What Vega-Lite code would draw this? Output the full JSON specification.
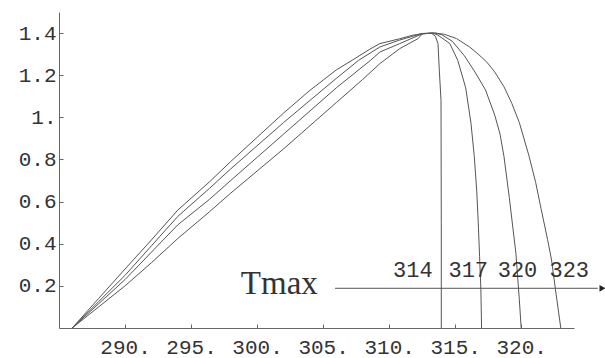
{
  "$schema": "https://vega.github.io/schema/vega-lite/v6.json",
  "width": 515,
  "height": 316,
  "autosize": {"type": "none"},
  "padding": {"left": 59, "top": 12, "right": 31, "bottom": 30},
  "background": "white",
  "config": {
    "view": {"stroke": null},
    "axis": {"grid": false, "domainColor": "#666", "tickColor": "#666", "labelColor": "#333", "labelFont": "Liberation Mono", "labelFontSize": 21, "domainWidth": 1, "tickWidth": 1, "title": null, "labelFlush": false, "labelOverlap": false}
  },
  "datasets": {
    "curves": [
      {"tmax": 323, "i": 0, "T": 286, "r": 0},
      {"tmax": 323, "i": 1, "T": 288, "r": 0.14},
      {"tmax": 323, "i": 2, "T": 290, "r": 0.28},
      {"tmax": 323, "i": 3, "T": 292, "r": 0.418},
      {"tmax": 323, "i": 4, "T": 294, "r": 0.56},
      {"tmax": 323, "i": 5, "T": 296.4, "r": 0.694},
      {"tmax": 323, "i": 6, "T": 298, "r": 0.79},
      {"tmax": 323, "i": 7, "T": 300, "r": 0.905},
      {"tmax": 323, "i": 8, "T": 302, "r": 1.02},
      {"tmax": 323, "i": 9, "T": 304, "r": 1.128},
      {"tmax": 323, "i": 10, "T": 306, "r": 1.225},
      {"tmax": 323, "i": 11, "T": 307.2, "r": 1.271},
      {"tmax": 323, "i": 12, "T": 308.5, "r": 1.322},
      {"tmax": 323, "i": 13, "T": 309.3, "r": 1.35},
      {"tmax": 323, "i": 14, "T": 310.8, "r": 1.373},
      {"tmax": 323, "i": 15, "T": 311.8, "r": 1.39},
      {"tmax": 323, "i": 16, "T": 312.6, "r": 1.398},
      {"tmax": 323, "i": 17, "T": 313.5, "r": 1.4},
      {"tmax": 323, "i": 18, "T": 314.2, "r": 1.394},
      {"tmax": 323, "i": 19, "T": 315.1, "r": 1.374},
      {"tmax": 323, "i": 20, "T": 316.1, "r": 1.334},
      {"tmax": 323, "i": 21, "T": 316.8, "r": 1.297},
      {"tmax": 323, "i": 22, "T": 317.4, "r": 1.262},
      {"tmax": 323, "i": 23, "T": 318.0, "r": 1.215},
      {"tmax": 323, "i": 24, "T": 318.7, "r": 1.145},
      {"tmax": 323, "i": 25, "T": 319.3, "r": 1.065},
      {"tmax": 323, "i": 26, "T": 319.86, "r": 0.975},
      {"tmax": 323, "i": 27, "T": 320.6, "r": 0.815},
      {"tmax": 323, "i": 28, "T": 321.1, "r": 0.69},
      {"tmax": 323, "i": 29, "T": 321.5, "r": 0.568},
      {"tmax": 323, "i": 30, "T": 322.0, "r": 0.42},
      {"tmax": 323, "i": 31, "T": 322.3, "r": 0.323},
      {"tmax": 323, "i": 32, "T": 322.6, "r": 0.181},
      {"tmax": 323, "i": 33, "T": 323, "r": 0},
      {"tmax": 320, "i": 0, "T": 286, "r": 0},
      {"tmax": 320, "i": 1, "T": 288, "r": 0.125},
      {"tmax": 320, "i": 2, "T": 290, "r": 0.25},
      {"tmax": 320, "i": 3, "T": 292, "r": 0.39},
      {"tmax": 320, "i": 4, "T": 294, "r": 0.53},
      {"tmax": 320, "i": 5, "T": 296.4, "r": 0.663},
      {"tmax": 320, "i": 6, "T": 298, "r": 0.755},
      {"tmax": 320, "i": 7, "T": 300, "r": 0.865},
      {"tmax": 320, "i": 8, "T": 302, "r": 0.975},
      {"tmax": 320, "i": 9, "T": 304, "r": 1.08},
      {"tmax": 320, "i": 10, "T": 306, "r": 1.185},
      {"tmax": 320, "i": 11, "T": 307.7, "r": 1.271},
      {"tmax": 320, "i": 12, "T": 309.3, "r": 1.334},
      {"tmax": 320, "i": 13, "T": 310.8, "r": 1.367},
      {"tmax": 320, "i": 14, "T": 311.8, "r": 1.385},
      {"tmax": 320, "i": 15, "T": 312.5, "r": 1.398},
      {"tmax": 320, "i": 16, "T": 313.5, "r": 1.4},
      {"tmax": 320, "i": 17, "T": 314.0, "r": 1.392},
      {"tmax": 320, "i": 18, "T": 314.8, "r": 1.36},
      {"tmax": 320, "i": 19, "T": 315.7, "r": 1.292},
      {"tmax": 320, "i": 20, "T": 316.5, "r": 1.215},
      {"tmax": 320, "i": 21, "T": 317.3, "r": 1.13},
      {"tmax": 320, "i": 22, "T": 318.0, "r": 1.01},
      {"tmax": 320, "i": 23, "T": 318.4, "r": 0.92},
      {"tmax": 320, "i": 24, "T": 318.7, "r": 0.813},
      {"tmax": 320, "i": 25, "T": 319.1, "r": 0.62},
      {"tmax": 320, "i": 26, "T": 319.4, "r": 0.46},
      {"tmax": 320, "i": 27, "T": 319.6, "r": 0.355},
      {"tmax": 320, "i": 28, "T": 319.86, "r": 0.134},
      {"tmax": 320, "i": 29, "T": 320, "r": 0},
      {"tmax": 317, "i": 0, "T": 286, "r": 0},
      {"tmax": 317, "i": 1, "T": 288, "r": 0.115},
      {"tmax": 317, "i": 2, "T": 290, "r": 0.23},
      {"tmax": 317, "i": 3, "T": 292, "r": 0.36},
      {"tmax": 317, "i": 4, "T": 294, "r": 0.49},
      {"tmax": 317, "i": 5, "T": 296.4, "r": 0.611},
      {"tmax": 317, "i": 6, "T": 298, "r": 0.7},
      {"tmax": 317, "i": 7, "T": 300, "r": 0.81},
      {"tmax": 317, "i": 8, "T": 302, "r": 0.92},
      {"tmax": 317, "i": 9, "T": 304, "r": 1.03},
      {"tmax": 317, "i": 10, "T": 306, "r": 1.14},
      {"tmax": 317, "i": 11, "T": 308.6, "r": 1.271},
      {"tmax": 317, "i": 12, "T": 309.3, "r": 1.31},
      {"tmax": 317, "i": 13, "T": 310.8, "r": 1.35},
      {"tmax": 317, "i": 14, "T": 312.2, "r": 1.388},
      {"tmax": 317, "i": 15, "T": 312.5, "r": 1.396},
      {"tmax": 317, "i": 16, "T": 313.3, "r": 1.4},
      {"tmax": 317, "i": 17, "T": 313.7, "r": 1.39},
      {"tmax": 317, "i": 18, "T": 314.6, "r": 1.35},
      {"tmax": 317, "i": 19, "T": 315.2, "r": 1.27},
      {"tmax": 317, "i": 20, "T": 315.8, "r": 1.14},
      {"tmax": 317, "i": 21, "T": 316.2, "r": 0.971},
      {"tmax": 317, "i": 22, "T": 316.45, "r": 0.813},
      {"tmax": 317, "i": 23, "T": 316.63, "r": 0.655},
      {"tmax": 317, "i": 24, "T": 316.75, "r": 0.5},
      {"tmax": 317, "i": 25, "T": 316.85, "r": 0.339},
      {"tmax": 317, "i": 26, "T": 316.95, "r": 0.181},
      {"tmax": 317, "i": 27, "T": 317, "r": 0},
      {"tmax": 314, "i": 0, "T": 286, "r": 0},
      {"tmax": 314, "i": 1, "T": 288, "r": 0.1},
      {"tmax": 314, "i": 2, "T": 290, "r": 0.2},
      {"tmax": 314, "i": 3, "T": 292, "r": 0.31},
      {"tmax": 314, "i": 4, "T": 294, "r": 0.425},
      {"tmax": 314, "i": 5, "T": 296.4, "r": 0.552},
      {"tmax": 314, "i": 6, "T": 298, "r": 0.64},
      {"tmax": 314, "i": 7, "T": 300, "r": 0.745},
      {"tmax": 314, "i": 8, "T": 302, "r": 0.85},
      {"tmax": 314, "i": 9, "T": 304, "r": 0.96},
      {"tmax": 314, "i": 10, "T": 306, "r": 1.07},
      {"tmax": 314, "i": 11, "T": 308, "r": 1.18},
      {"tmax": 314, "i": 12, "T": 309.3, "r": 1.255},
      {"tmax": 314, "i": 13, "T": 310.8, "r": 1.326},
      {"tmax": 314, "i": 14, "T": 312.2, "r": 1.374},
      {"tmax": 314, "i": 15, "T": 312.5, "r": 1.396},
      {"tmax": 314, "i": 16, "T": 313.2, "r": 1.4},
      {"tmax": 314, "i": 17, "T": 313.5, "r": 1.385},
      {"tmax": 314, "i": 18, "T": 313.7, "r": 1.35},
      {"tmax": 314, "i": 19, "T": 313.8, "r": 1.224},
      {"tmax": 314, "i": 20, "T": 313.93, "r": 1.08},
      {"tmax": 314, "i": 21, "T": 313.95, "r": 0.5},
      {"tmax": 314, "i": 22, "T": 313.95, "r": 0}
    ],
    "arrow": [{"x1": 305.9, "x2": 325.8, "y": 0.1885, "tip": 326.15}],
    "title": [{"x": 304.6, "y": 0.161, "label": "Tmax"}],
    "labels": [
      {"x": 311.8, "y": 0.2407, "label": "314"},
      {"x": 315.99, "y": 0.2407, "label": "317"},
      {"x": 319.72, "y": 0.2407, "label": "320"},
      {"x": 323.64, "y": 0.2407, "label": "323"}
    ]
  },
  "layer": [
    {
      "data": {"name": "curves"},
      "mark": {"type": "line", "stroke": "#555", "strokeWidth": 1},
      "encoding": {
        "x": {"field": "T", "type": "quantitative", "scale": {"domain": [285, 324], "nice": false, "zero": false},
          "axis": {"values": [290, 295, 300, 305, 310, 315, 320], "labelExpr": "datum.value + '.'", "tickSize": -4, "labelPadding": 12, "labelDx": -4}},
        "y": {"field": "r", "type": "quantitative", "scale": {"domain": [0, 1.5], "nice": false},
          "axis": {"values": [0.2, 0.4, 0.6, 0.8, 1, 1.2, 1.4], "labelExpr": "datum.value == 1 ? '1.' : format(datum.value, '.1f')", "tickSize": -4, "labelPadding": 7}},
        "detail": {"field": "tmax"},
        "order": {"field": "i", "type": "quantitative"}
      }
    },
    {
      "data": {"name": "arrow"},
      "mark": {"type": "rule", "stroke": "#555", "strokeWidth": 1},
      "encoding": {
        "x": {"field": "x1", "type": "quantitative"},
        "x2": {"field": "x2"},
        "y": {"field": "y", "type": "quantitative"}
      }
    },
    {
      "data": {"name": "arrow"},
      "mark": {"type": "point", "shape": "triangle-right", "filled": true, "color": "#222", "size": 45, "opacity": 1},
      "encoding": {
        "x": {"field": "tip", "type": "quantitative"},
        "y": {"field": "y", "type": "quantitative"}
      }
    },
    {
      "data": {"name": "title"},
      "mark": {"type": "text", "font": "Liberation Serif", "fontSize": 33, "align": "right", "baseline": "alphabetic", "color": "#333"},
      "encoding": {
        "x": {"field": "x", "type": "quantitative"},
        "y": {"field": "y", "type": "quantitative"},
        "text": {"field": "label"}
      }
    },
    {
      "data": {"name": "labels"},
      "mark": {"type": "text", "font": "Liberation Mono", "fontSize": 22, "align": "center", "baseline": "alphabetic", "color": "#333"},
      "encoding": {
        "x": {"field": "x", "type": "quantitative"},
        "y": {"field": "y", "type": "quantitative"},
        "text": {"field": "label"}
      }
    }
  ]
}
